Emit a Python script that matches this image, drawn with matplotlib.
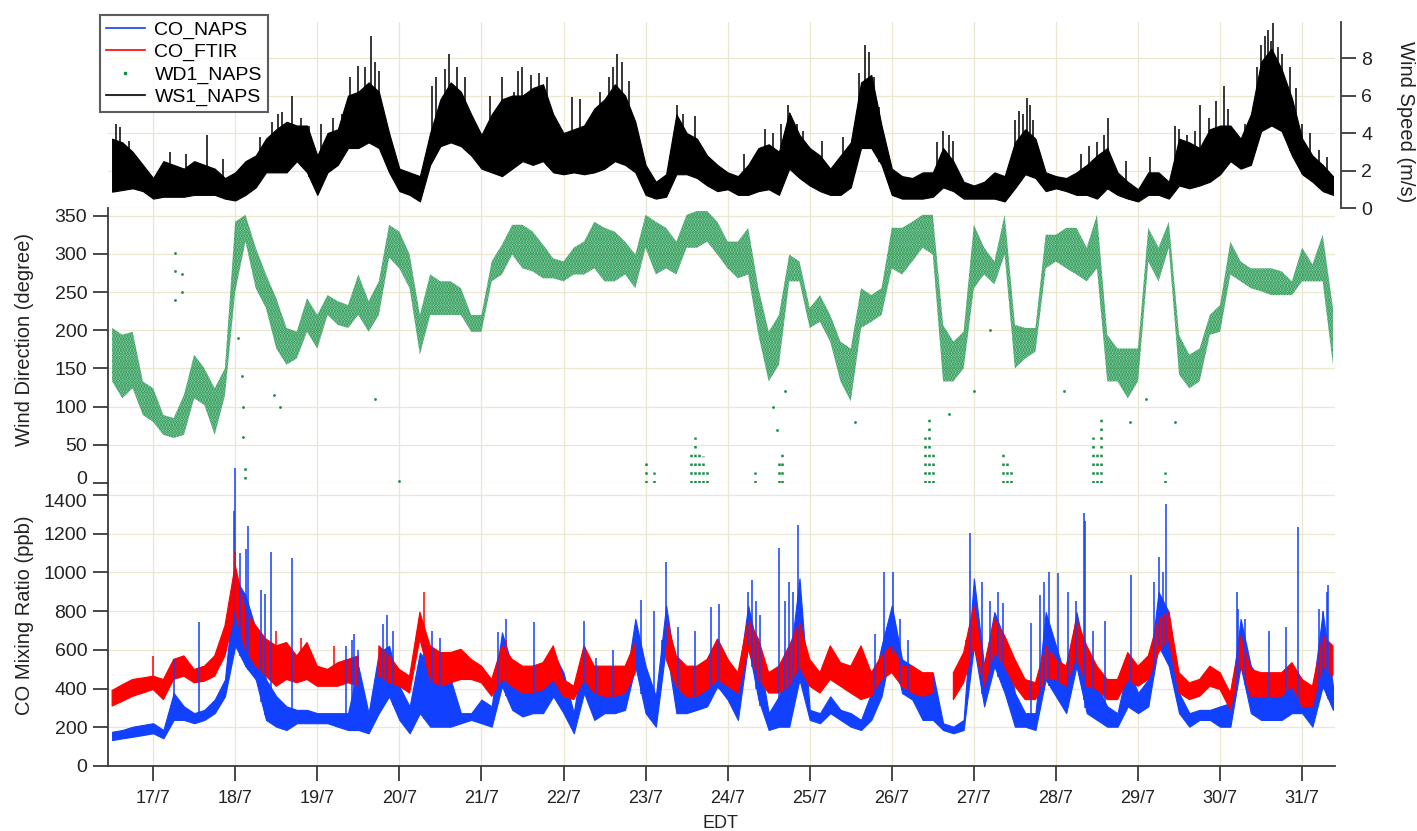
import numpy as np
import matplotlib
matplotlib.use('Agg')
import matplotlib.pyplot as plt
import matplotlib.transforms as mtrans
from matplotlib.lines import Line2D

plt.rcParams['font.family'] = ['Liberation Sans', 'DejaVu Sans']
plt.rcParams['hatch.linewidth'] = 1.6

# ---------------- data (3-hourly envelopes) ----------------
t_start = 16.5          # 16/7 12:00 EDT, day-of-month
t_step = 0.125          # 3 hours
n_samples = 120

# Wind speed (m/s), dense band: low / high edge
ws_hi = [3.7, 3.5, 3.0, 2.3, 1.6, 2.5, 2.3, 2.1, 2.5, 2.3, 2.1, 1.6, 1.9, 2.5, 2.8, 3.7, 4.2, 4.6, 4.4, 4.4,
         2.8, 4.0, 4.2, 6.0, 6.2, 6.7, 6.2, 4.0, 2.1, 1.9, 1.7, 4.0, 5.8, 6.7, 6.2, 5.0, 3.9, 5.0, 5.8, 6.0,
         6.0, 6.4, 6.6, 5.0, 4.0, 4.2, 4.4, 5.3, 5.8, 6.6, 6.0, 4.6, 2.3, 1.4, 1.8, 5.0, 4.0, 3.7, 2.8, 2.3,
         1.9, 1.7, 2.3, 3.2, 3.4, 3.0, 5.1, 3.9, 3.2, 2.8, 2.1, 2.8, 3.5, 6.7, 7.1, 4.4, 2.1, 1.7, 1.6, 1.9,
         1.9, 3.2, 2.5, 1.4, 1.2, 1.4, 1.9, 1.7, 3.5, 4.2, 3.7, 1.9, 1.7, 1.6, 1.9, 2.3, 2.8, 3.2, 1.9, 1.4,
         1.0, 1.9, 1.9, 1.4, 3.7, 3.5, 3.2, 4.2, 4.4, 4.4, 3.7, 5.0, 7.8, 8.5, 7.4, 5.85, 3.7, 2.8, 2.3, 1.7]
ws_lo = [0.87, 0.96, 1.05, 0.9, 0.5, 0.6, 0.6, 0.6, 0.7, 0.7, 0.7, 0.5, 0.4, 0.7, 1.1, 1.9, 1.9, 1.9, 2.5, 1.9,
         0.7, 1.9, 2.3, 3.2, 3.2, 3.5, 3.2, 1.9, 0.9, 0.7, 0.35, 2.3, 3.3, 3.5, 3.3, 2.8, 2.1, 1.9, 1.7, 2.1,
         2.5, 2.3, 2.5, 1.9, 1.8, 1.9, 1.8, 1.9, 2.1, 2.5, 2.3, 1.9, 0.7, 0.5, 0.6, 1.8, 1.8, 1.6, 1.2, 0.9,
         1.0, 0.7, 0.7, 0.9, 1.0, 0.7, 2.1, 1.6, 1.2, 0.9, 0.7, 0.7, 1.1, 3.2, 3.2, 2.3, 0.7, 0.5, 0.5, 0.5,
         0.6, 1.1, 0.9, 0.5, 0.5, 0.5, 0.5, 0.35, 1.05, 1.8, 1.6, 0.9, 1.05, 0.9, 0.7, 0.7, 0.5, 1.05, 0.7, 0.5,
         0.35, 0.7, 0.7, 0.5, 1.2, 1.05, 1.2, 1.4, 1.8, 2.5, 2.1, 2.3, 4.1, 4.4, 4.1, 2.8, 1.8, 1.4, 0.9, 0.7]
ws_spike_days = [16.55, 16.6, 16.7, 17.2, 17.4, 17.66, 17.85, 18.3, 18.45, 18.52, 18.57, 18.69, 18.8, 18.9,
                 19.05, 19.19, 19.3, 19.4, 19.5, 19.58, 19.65, 19.7, 19.75, 20.4, 20.45, 20.55, 20.6, 20.7,
                 20.8, 21.1, 21.25, 21.4, 21.45, 21.5, 21.6, 21.7, 21.8, 22.1, 22.2, 22.45, 22.55, 22.6,
                 22.65, 22.71, 22.8, 23.38, 23.45, 23.6, 24.2, 24.45, 24.55, 24.65, 24.74, 24.85, 24.92,
                 25.15, 25.4, 25.55, 25.6, 25.67, 25.72, 25.78, 25.85, 26.55, 26.62, 26.7, 26.75, 27.5,
                 27.55, 27.6, 27.65, 27.68, 27.72, 28.3, 28.4, 28.5, 28.58, 28.64, 28.85, 29.15, 29.45,
                 29.5, 29.6, 29.7, 29.75, 29.87, 29.95, 30.05, 30.1, 30.3, 30.45, 30.5, 30.55, 30.58,
                 30.62, 30.64, 30.7, 30.75, 30.85, 30.92, 31.0, 31.1, 31.2, 31.3]
ws_spike_vals = [4.5, 4.3, 3.6, 3.0, 2.9, 3.9, 2.6, 3.8, 4.6, 5.0, 5.1, 6.0, 4.8, 4.4,
                 4.5, 4.8, 5.0, 7.0, 7.6, 7.5, 9.2, 7.8, 7.3, 6.5, 7.0, 7.4, 8.2, 7.5,
                 7.0, 6.0, 7.0, 6.2, 7.3, 7.5, 7.1, 7.2, 7.0, 5.9, 5.8, 6.2, 7.0, 7.5,
                 8.2, 7.8, 6.8, 5.5, 5.0, 4.9, 2.9, 4.2, 4.0, 4.5, 5.5, 4.5, 4.1,
                 3.6, 3.8, 4.4, 7.2, 8.7, 8.3, 7.0, 5.4, 3.5, 4.1, 3.9, 3.6, 4.7,
                 5.2, 5.0, 5.85, 5.5, 4.7, 2.9, 3.3, 3.5, 3.9, 4.8, 2.5, 2.7, 4.4,
                 4.2, 3.9, 4.1, 5.5, 4.8, 5.7, 6.5, 5.3, 4.5, 7.5, 8.7, 9.2, 9.5,
                 8.9, 9.85, 8.6, 8.2, 7.5, 6.4, 4.5, 4.0, 3.1, 2.7]

# Wind direction (degree): main scatter band low / high
wd_hi = [203, 194, 198, 133, 124, 89, 85, 115, 168, 150, 124, 150, 342, 351, 308, 273, 242, 203, 198, 242,
         220, 246, 238, 233, 273, 238, 264, 338, 329, 299, 220, 273, 264, 264, 255, 220, 220, 290, 312, 338,
         338, 329, 312, 294, 290, 308, 316, 342, 334, 329, 316, 299, 351, 342, 334, 316, 351, 356, 356, 342,
         316, 316, 334, 255, 198, 220, 299, 290, 229, 246, 220, 185, 176, 255, 246, 255, 334, 334, 342, 351,
         351, 207, 185, 198, 338, 308, 290, 351, 207, 203, 203, 325, 325, 334, 334, 308, 351, 194, 176, 176,
         176, 334, 308, 342, 194, 168, 176, 220, 233, 316, 290, 281, 281, 281, 277, 264, 308, 286, 325, 229]
wd_lo = [133, 111, 124, 89, 80, 63, 59, 63, 111, 102, 63, 115, 251, 316, 255, 229, 176, 155, 163, 198,
         176, 220, 207, 203, 220, 198, 220, 295, 281, 255, 168, 220, 220, 220, 220, 198, 198, 264, 273, 299,
         281, 277, 268, 268, 264, 273, 273, 281, 264, 264, 273, 255, 308, 273, 281, 273, 308, 308, 316, 299,
         281, 268, 273, 194, 133, 155, 264, 264, 203, 211, 185, 133, 107, 203, 211, 220, 281, 273, 290, 308,
         299, 133, 133, 150, 255, 273, 260, 299, 150, 163, 172, 281, 290, 281, 273, 264, 281, 133, 133, 111,
         133, 290, 264, 308, 142, 124, 133, 194, 198, 273, 264, 255, 251, 246, 246, 246, 264, 264, 264, 155]
# streaks of directions that wrapped past 360 (near north)
wd_wrap_days = [18.12, 23.0, 23.1, 23.55, 23.6, 23.65, 23.7, 23.75, 24.33, 24.63, 24.66, 26.4, 26.45,
                26.5, 27.35, 27.4, 27.45, 28.45, 28.5, 28.55, 29.33]
wd_wrap_lo = [5, 0, 0, 0, 0, 0, 0, 0, 0, 0, 0, 0, 0, 0, 0, 0, 0, 0, 0, 0, 0]
wd_wrap_hi = [28, 32, 15, 40, 60, 45, 35, 20, 15, 30, 40, 60, 90, 40, 45, 30, 20, 60, 45, 90, 15]
# isolated direction readings
wd_out_days = [17.27, 17.27, 17.27, 17.35, 17.35, 18.04, 18.08, 18.1, 18.1, 18.47, 18.55, 19.7, 20.0,
               24.55, 24.6, 24.7, 25.55, 26.7, 27.0, 27.2, 28.1, 28.9, 29.1, 29.45]
wd_out_vals = [301, 277, 240, 250, 274, 190, 140, 100, 60, 115, 100, 110, 3,
               100, 70, 120, 80, 90, 120, 200, 120, 80, 110, 80]

# CO mixing ratio (ppb): NAPS (blue) and FTIR (red) bands
co_naps_hi = [177, 186, 203, 212, 221, 186, 377, 308, 273, 290, 343, 447, 969, 882, 708, 447, 360, 308, 290, 290,
              273, 273, 273, 273, 516, 273, 586, 621, 412, 308, 586, 516, 516, 447, 273, 273, 343, 308, 690, 516,
              447, 412, 412, 586, 482, 273, 621, 377, 377, 412, 412, 760, 516, 360, 829, 482, 447, 516, 551, 656,
              551, 447, 829, 586, 273, 360, 516, 969, 290, 273, 360, 290, 273, 238, 377, 621, 829, 551, 516, 447,
              482, 221, 203, 238, 969, 516, 795, 656, 377, 273, 273, 795, 621, 447, 795, 551, 412, 308, 273, 516,
              377, 447, 899, 795, 377, 273, 290, 290, 308, 325, 760, 516, 447, 447, 482, 516, 447, 377, 795, 412]
co_naps_lo = [134, 143, 151, 160, 169, 143, 238, 238, 221, 238, 273, 360, 621, 516, 447, 238, 203, 186, 221, 221,
              221, 221, 203, 186, 186, 169, 273, 360, 238, 169, 273, 203, 203, 203, 221, 238, 221, 203, 412, 290,
              256, 273, 273, 360, 273, 169, 377, 238, 273, 273, 290, 516, 273, 203, 621, 273, 273, 290, 308, 412,
              343, 238, 621, 343, 186, 203, 203, 447, 238, 221, 273, 238, 203, 186, 238, 360, 621, 377, 343, 238,
              238, 186, 169, 186, 621, 308, 516, 377, 203, 203, 186, 447, 360, 273, 516, 273, 238, 203, 203, 308,
              273, 308, 621, 516, 273, 203, 238, 238, 203, 203, 516, 273, 238, 238, 238, 273, 273, 203, 412, 290]
co_ftir_hi = [390, 420, 447, 455, 464, 447, 551, 569, 499, 516, 569, 725, 1038, 800, 725, 656, 621, 638, 569, 638,
              516, 499, 534, 551, 569, np.nan, 621, 569, 499, 464, 795, 621, 586, 586, 603, 551, 516, 447, 621, 551,
              516, 516, 534, 621, 447, 412, 621, 516, 516, 516, 516, 638, np.nan, np.nan, 760, 569, 516, 516, 551, 656,
              551, 482, 760, 656, 482, 516, 621, 742, 551, 482, 621, 534, 516, 621, 482, 569, 621, 516, 516, 482,
              482, np.nan, 482, 586, 829, 516, 760, 673, 551, 447, 430, 621, 551, 516, 760, 621, 516, 447, 447, 586,
              516, 569, 760, 795, 482, 430, 447, 516, 482, 377, 673, 499, 482, 482, 482, 534, 447, 412, 673, 621]
co_ftir_lo = [310, 334, 360, 377, 395, 343, 447, 464, 430, 438, 464, 569, 795, 600, 516, 464, 412, 447, 430, 447,
              412, 412, 412, 430, 412, np.nan, 464, 430, 412, 377, 656, 447, 412, 430, 447, 447, 430, 360, 447, 412,
              377, 377, 395, 447, 360, 343, 447, 377, 360, 360, 377, 482, np.nan, np.nan, 551, 412, 360, 360, 395, 447,
              412, 377, 603, 447, 377, 377, 412, 516, 412, 377, 447, 412, 377, 343, 360, 447, 482, 412, 377, 360,
              377, np.nan, 343, 430, 621, 412, 586, 516, 412, 343, 343, 447, 447, 412, 569, 412, 395, 343, 343, 447,
              412, 447, 586, 656, 377, 343, 360, 412, 395, 290, 516, 360, 360, 360, 360, 412, 308, 308, 516, 464]
co_naps_spike_days = [17.25, 17.56, 17.98, 18.0, 18.06, 18.13, 18.16, 18.32, 18.36, 18.43, 18.69, 19.35,
                      19.42, 19.45, 19.5, 19.8, 19.85, 19.92, 20.3, 20.4, 20.5, 21.2, 21.3, 21.64, 22.25,
                      22.4, 22.6, 22.95, 23.1, 23.2, 23.25, 23.4, 23.6, 23.8, 23.9, 24.25, 24.3, 24.35,
                      24.4, 24.63, 24.7, 24.75, 24.8, 24.86, 25.8, 25.9, 26.02, 26.1, 26.2, 26.95, 27.1,
                      27.2, 27.3, 27.35, 27.7, 27.8, 27.85, 27.92, 28.02, 28.15, 28.25, 28.34, 28.36, 28.45,
                      28.6, 28.92, 29.2, 29.25, 29.3, 29.34, 30.2, 30.22, 30.3, 30.6, 30.8, 30.95, 31.2,
                      31.25, 31.3, 31.32]
co_naps_spike_vals = [551, 742, 1316, 1540, 1100, 1120, 1238, 908, 890, 1104, 1073, 620,
                      650, 680, 600, 734, 780, 700, 650, 700, 660, 690, 760, 742, 751,
                      560, 600, 856, 800, 650, 1056, 720, 700, 820, 838, 900, 960, 850,
                      780, 1125, 850, 950, 900, 1247, 680, 1003, 1003, 760, 650, 1203, 950,
                      850, 899, 840, 740, 882, 950, 1003, 995, 900, 850, 1308, 1264, 700,
                      750, 986, 950, 1082, 1000, 1351, 900, 812, 760, 700, 720, 1233, 812,
                      800, 900, 934]
co_ftir_spike_days = [17.0, 18.0, 18.5, 18.8, 19.2, 20.3, 21.3, 22.9, 26.9]
co_ftir_spike_vals = [569, 1108, 700, 660, 620, 899, 650, 640, 650]

day_ticks = list(range(17, 32))
day_labels = [f"{d}/7" for d in day_ticks]

# ---------------- drawing ----------------
days = t_start + t_step * np.arange(n_samples)

C_BLUE = '#1240ff'
C_RED = '#ff0000'
C_GREEN = '#118f43'
C_GRID = '#ebe7d0'
C_AX = '#3a3a3a'

W_PX, H_PX = 1417, 831
fig = plt.figure(figsize=(W_PX / 100, H_PX / 100), dpi=100)
L = 108 / W_PX
R = 1335 / W_PX
ax_ws = fig.add_axes([L, 1 - 208 / H_PX, R - L, (208 - 22.4) / H_PX])
ax_wd = fig.add_axes([L, 1 - 483 / H_PX, R - L, (483 - 208) / H_PX])
ax_co = fig.add_axes([L, 1 - 766 / H_PX, R - L, (766 - 483) / H_PX])

for ax in (ax_ws, ax_wd, ax_co):
    ax.set_facecolor('none')
    ax.set_xlim(16.45, 31.40)
    ax.set_xticks(day_ticks)
    ax.grid(True, color=C_GRID, lw=0.9)
    ax.set_axisbelow(True)
    for s in ax.spines.values():
        s.set_visible(False)
        s.set_color(C_AX)
        s.set_linewidth(1.3)
    ax.tick_params(colors=C_AX, width=1.3, length=11, labelsize=14, labelcolor='#222222')
ax_co.set_zorder(3)
ax_wd.set_zorder(2)
ax_ws.set_zorder(1)

# --- wind speed ---
ax_ws.fill_between(days, ws_lo, ws_hi, color='black', lw=0.8)
ax_ws.vlines(ws_spike_days, np.interp(ws_spike_days, days, ws_lo), ws_spike_vals, color='black', lw=1.1)
ax_ws.set_ylim(0, 9.9)
ax_ws.set_yticks([0, 2, 4, 6, 8])
ax_ws.spines['right'].set_visible(True)
ax_ws.spines['right'].set_position(('outward', 4))
ax_ws.yaxis.tick_right()
ax_ws.tick_params(axis='y', pad=4)
ax_ws.tick_params(axis='x', length=0, labelbottom=False)

# --- wind direction ---
ax_wd.fill_between(days, wd_lo, wd_hi, facecolor=(0.07, 0.56, 0.26, 0.33),
                   edgecolor=C_GREEN, hatch='......', lw=0)
ax_wd.vlines(wd_wrap_days, wd_wrap_lo, wd_wrap_hi, colors=C_GREEN, linestyles=(0, (1, 2.5)), lw=1.8)
ax_wd.scatter(wd_out_days, wd_out_vals, s=4, color=C_GREEN, lw=0)
ax_wd.set_ylim(0, 360)
ax_wd.set_yticks(range(0, 351, 50))
ax_wd.spines['left'].set_visible(True)
ax_wd.tick_params(axis='y', pad=4)
ax_wd.tick_params(axis='x', length=0, labelbottom=False)

# --- CO ---
ax_co.fill_between(days, co_naps_lo, co_naps_hi, color=C_BLUE, lw=0.8)
ax_co.vlines(co_naps_spike_days, np.interp(co_naps_spike_days, days, co_naps_lo), co_naps_spike_vals,
             color=C_BLUE, lw=1.1, clip_on=False)
ax_co.fill_between(days, co_ftir_lo, co_ftir_hi, color=C_RED, lw=0.8)
ax_co.vlines(co_ftir_spike_days, np.interp(co_ftir_spike_days, days, co_ftir_lo), co_ftir_spike_vals,
             color=C_RED, lw=1.1)
ax_co.set_ylim(0, 1462)
ax_co.set_yticks(range(0, 1401, 200))
ax_co.spines['left'].set_visible(True)
ax_co.spines['bottom'].set_visible(True)
ax_co.set_xticklabels(day_labels)
ax_co.tick_params(axis='y', pad=4)
ax_co.tick_params(axis='x', pad=6, labelsize=13)

# keep the touching "0" (direction) and "1400" (CO) labels from colliding
fig.canvas.draw()
ax_wd.get_yticklabels()[0].set_transform(
    ax_wd.get_yticklabels()[0].get_transform() + mtrans.ScaledTranslation(0, 4 / 72, fig.dpi_scale_trans))
ax_co.get_yticklabels()[-1].set_transform(
    ax_co.get_yticklabels()[-1].get_transform() + mtrans.ScaledTranslation(0, -4 / 72, fig.dpi_scale_trans))

# --- labels ---
fig.text(25 / W_PX, 1 - 340 / H_PX, 'Wind Direction (degree)', rotation=90, ha='center', va='center',
         fontsize=14.5, color='#222222')
fig.text(25 / W_PX, 1 - 615 / H_PX, 'CO Mixing Ratio (ppb)', rotation=90, ha='center', va='center',
         fontsize=14.5, color='#222222')
fig.text(1405 / W_PX, 1 - 122 / H_PX, 'Wind Speed (m/s)', rotation=270, ha='center', va='center',
         fontsize=14.5, color='#222222')
fig.text(720 / W_PX, 1 - 823 / H_PX, 'EDT', ha='center', va='center', fontsize=13, color='#222222')

# --- legend ---
handles = [Line2D([], [], color=C_BLUE, lw=1.2),
           Line2D([], [], color=C_RED, lw=1.2),
           Line2D([], [], color=C_GREEN, lw=0, marker='s', markersize=1.8),
           Line2D([], [], color='black', lw=1.2)]
labels = ['CO_NAPS', 'CO_FTIR', 'WD1_NAPS', 'WS1_NAPS']
leg = fig.legend(handles, labels, loc='upper left', bbox_to_anchor=(100 / W_PX, 1 - 15 / H_PX),
                 frameon=True, fancybox=False, edgecolor='#333333', fontsize=14, borderpad=0.3,
                 labelspacing=0.24, handlelength=2.0, handletextpad=0.5, borderaxespad=0)
leg.get_frame().set_linewidth(1.5)
leg.set_zorder(10)

fig.savefig('out.png', dpi=100)
